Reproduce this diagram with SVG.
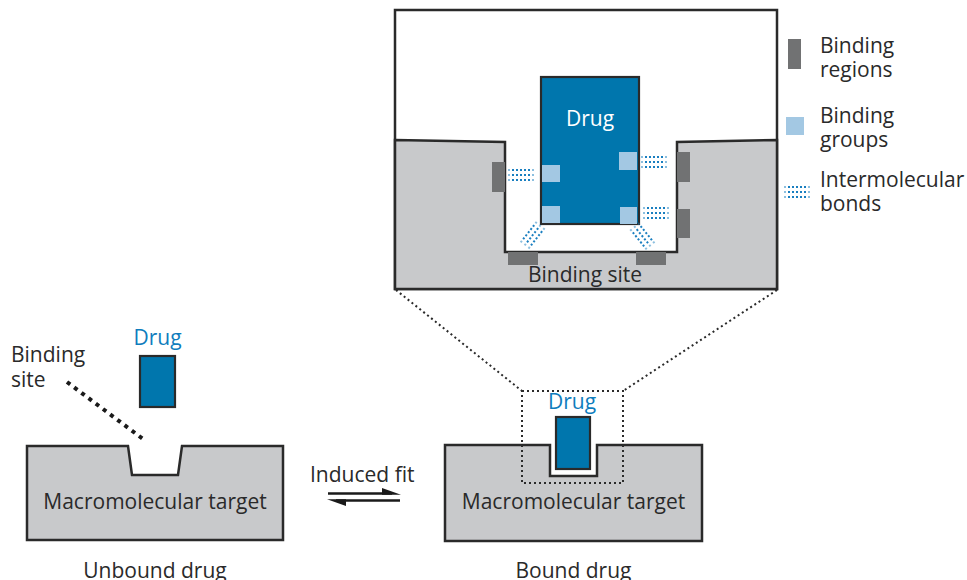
<svg xmlns="http://www.w3.org/2000/svg" width="967" height="580" viewBox="0 0 967 580">
<style>
text{font-family:"Open Sans","Noto Sans","Liberation Sans",sans-serif;font-size:21px;fill:#2a2a2a}
.blue{fill:#0f7dbd}
.white{fill:#ffffff}
.mid{text-anchor:middle}
.tgt{fill:#c8c9cb;stroke:#2a2a2a;stroke-width:2.5;stroke-linejoin:miter}
.drug{fill:#0076ad;stroke:#2a2a2a;stroke-width:2.2}
.reg{fill:#717273}
.grp{fill:#a3c8e3}
.dot{fill:none;stroke:#2a2a2a;stroke-width:2;stroke-dasharray:2 3}
.bd{fill:#1a7fc0}
</style>
<defs>
<g id="bond">
<g class="bd">
<rect x="-14" y="-6" width="2" height="2" opacity="0.5"/><rect x="-10" y="-6" width="2" height="2"/><rect x="-6" y="-6" width="2" height="2"/><rect x="-2" y="-6" width="2" height="2"/><rect x="2" y="-6" width="2" height="2"/><rect x="6" y="-6" width="2" height="2"/><rect x="10" y="-6" width="2" height="2" opacity="0.5"/>
<rect x="-14" y="-1" width="2" height="2" opacity="0.5"/><rect x="-10" y="-1" width="2" height="2"/><rect x="-6" y="-1" width="2" height="2"/><rect x="-2" y="-1" width="2" height="2"/><rect x="2" y="-1" width="2" height="2"/><rect x="6" y="-1" width="2" height="2"/><rect x="10" y="-1" width="2" height="2" opacity="0.5"/>
<rect x="-14" y="4" width="2" height="2" opacity="0.5"/><rect x="-10" y="4" width="2" height="2"/><rect x="-6" y="4" width="2" height="2"/><rect x="-2" y="4" width="2" height="2"/><rect x="2" y="4" width="2" height="2"/><rect x="6" y="4" width="2" height="2"/><rect x="10" y="4" width="2" height="2" opacity="0.5"/>
</g>
</g>
</defs>

<g id="inset">
<rect x="395" y="10" width="382" height="279" fill="#ffffff" stroke="#2a2a2a" stroke-width="2.5"/>
<polygon class="tgt" points="395,140 505,142 505,252 677,252 677,142 777,140 777,289 395,289"/>
<rect class="reg" x="492" y="162" width="13" height="30"/>
<rect class="reg" x="677" y="152" width="13" height="30"/>
<rect class="reg" x="677" y="209" width="13" height="29"/>
<rect class="reg" x="508" y="252" width="30" height="13"/>
<rect class="reg" x="636" y="252" width="30" height="13"/>
<rect class="drug" x="541" y="77" width="98" height="147"/>
<rect class="grp" x="542" y="165" width="18" height="17"/>
<rect class="grp" x="542" y="206" width="18" height="17"/>
<rect class="grp" x="619" y="152" width="18" height="18"/>
<rect class="grp" x="620" y="207" width="17" height="17"/>
<text class="white mid" x="590" y="126">Drug</text>
<text class="mid" x="585" y="282">Binding site</text>
<use href="#bond" transform="translate(522,175)"/>
<use href="#bond" transform="translate(655,162)"/>
<use href="#bond" transform="translate(657,213)"/>
<use href="#bond" transform="translate(532,236) rotate(128)"/>
<use href="#bond" transform="translate(643,237) rotate(51)"/>
</g>

<g id="legend">
<rect class="reg" x="788" y="39" width="13" height="30"/>
<text x="820" y="53">Binding</text>
<text x="820" y="77">regions</text>
<rect class="grp" x="786" y="117" width="18" height="18"/>
<text x="820" y="123">Binding</text>
<text x="820" y="147">groups</text>
<use href="#bond" transform="translate(798,192)"/>
<text x="820" y="187">Intermolecular</text>
<text x="820" y="211">bonds</text>
</g>

<g id="unbound">
<polygon class="tgt" points="27,446 128,446 132,475 178,475 182,446 283,446 283,540 27,540"/>
<text class="mid" x="155" y="509">Macromolecular target</text>
<rect class="drug" x="140" y="356" width="35" height="51"/>
<text class="blue mid" x="157.5" y="345">Drug</text>
<text x="11" y="362">Binding</text>
<text x="11" y="387">site</text>
<line x1="67" y1="382" x2="143" y2="439" stroke="#1a1a1a" stroke-width="4" stroke-dasharray="4 5"/>
<text class="mid" x="155" y="578">Unbound drug</text>
</g>

<g id="bound">
<polygon class="tgt" points="445,445 550,445 550,476 597,476 597,445 702,445 702,541 445,541"/>
<text class="mid" x="573.5" y="509">Macromolecular target</text>
<rect class="drug" x="556" y="417" width="34" height="52"/>
<text class="blue mid" x="572" y="409">Drug</text>
<text class="mid" x="573.5" y="578">Bound drug</text>
</g>

<g id="connectors">
<rect class="dot" x="522" y="391" width="101" height="92"/>
<line class="dot" x1="396" y1="290" x2="522" y2="391"/>
<line class="dot" x1="777" y1="290" x2="623" y2="391"/>
<g id="induced-fit">
<text x="310" y="482">Induced fit</text>
<line x1="328" y1="493.5" x2="392" y2="493.5" stroke="#1a1a1a" stroke-width="2.5"/>
<polygon points="382,488 401,494.7 382,494.7" fill="#1a1a1a"/>
<line x1="336" y1="500.5" x2="400" y2="500.5" stroke="#1a1a1a" stroke-width="2.5"/>
<polygon points="327,499.3 346,499.3 346,506" fill="#1a1a1a"/>
</g>
</g>
</svg>
